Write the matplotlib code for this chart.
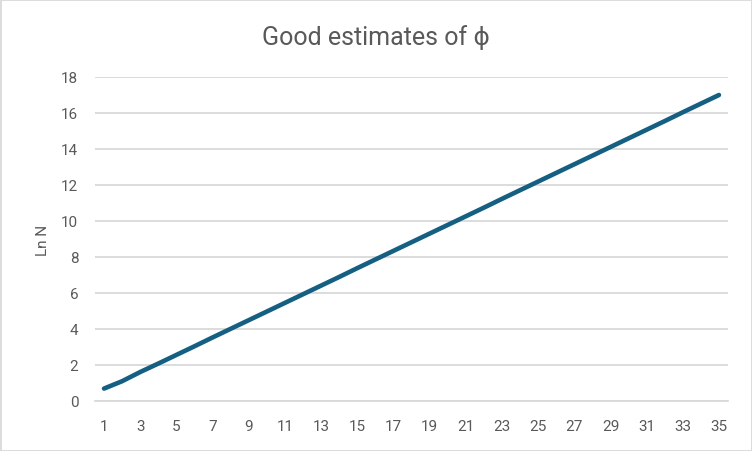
import matplotlib
matplotlib.use("Agg")
import matplotlib.pyplot as plt
from matplotlib.patches import Rectangle

# Datos
n_values = list(range(1, 36))
ln_n = [0.69, 1.10, 1.61, 2.08, 2.56, 3.04, 3.53, 4.01, 4.49, 4.97,
        5.45, 5.93, 6.41, 6.89, 7.38, 7.86, 8.34, 8.82, 9.30, 9.78,
        10.26, 10.74, 11.23, 11.71, 12.19, 12.67, 13.15, 13.63, 14.11, 14.59,
        15.07, 15.55, 16.04, 16.52, 17.00]
y_ticks = [0, 2, 4, 6, 8, 10, 12, 14, 16, 18]
x_tick_labels = [str(v) for v in n_values[::2]]

TEXT = "#595959"
GRID = "#d9d9d9"

plt.rcParams["font.family"] = ["Roboto", "DejaVu Sans"]

fig = plt.figure(figsize=(7.52, 4.52), dpi=100)
ax = fig.add_axes([95 / 752, 50 / 452, 633 / 752, 324 / 452])

ax.plot(n_values, ln_n, color="#156082", linewidth=3.3, solid_capstyle="round",
        solid_joinstyle="round")

ax.set_xlim(0.5, 35.5)
ax.set_ylim(0, 18)
ax.set_yticks(y_ticks)
ax.set_xticks(n_values[::2])
ax.set_xticklabels(x_tick_labels)
ax.yaxis.grid(True, color=GRID, linewidth=1.3)
ax.set_axisbelow(True)
for side in ["top", "right", "left"]:
    ax.spines[side].set_visible(False)
ax.spines["bottom"].set_color(GRID)
ax.spines["bottom"].set_linewidth(1.3)
ax.tick_params(axis="both", length=0, colors=TEXT, labelsize=11)
ax.tick_params(axis="y", pad=12)
ax.tick_params(axis="x", pad=13)

ax.set_ylabel("Ln N", color=TEXT, fontsize=11, labelpad=8)
fig.suptitle("Good estimates of \u03d5", color=TEXT, fontsize=18, y=0.945)

fig.patches.append(Rectangle((0.5 / 752, 0.5 / 452), 751 / 752, 451 / 452,
                             transform=fig.transFigure, fill=False,
                             edgecolor="#d9d9d9", linewidth=1.3))

fig.savefig("out.png", dpi=100, facecolor="white")
